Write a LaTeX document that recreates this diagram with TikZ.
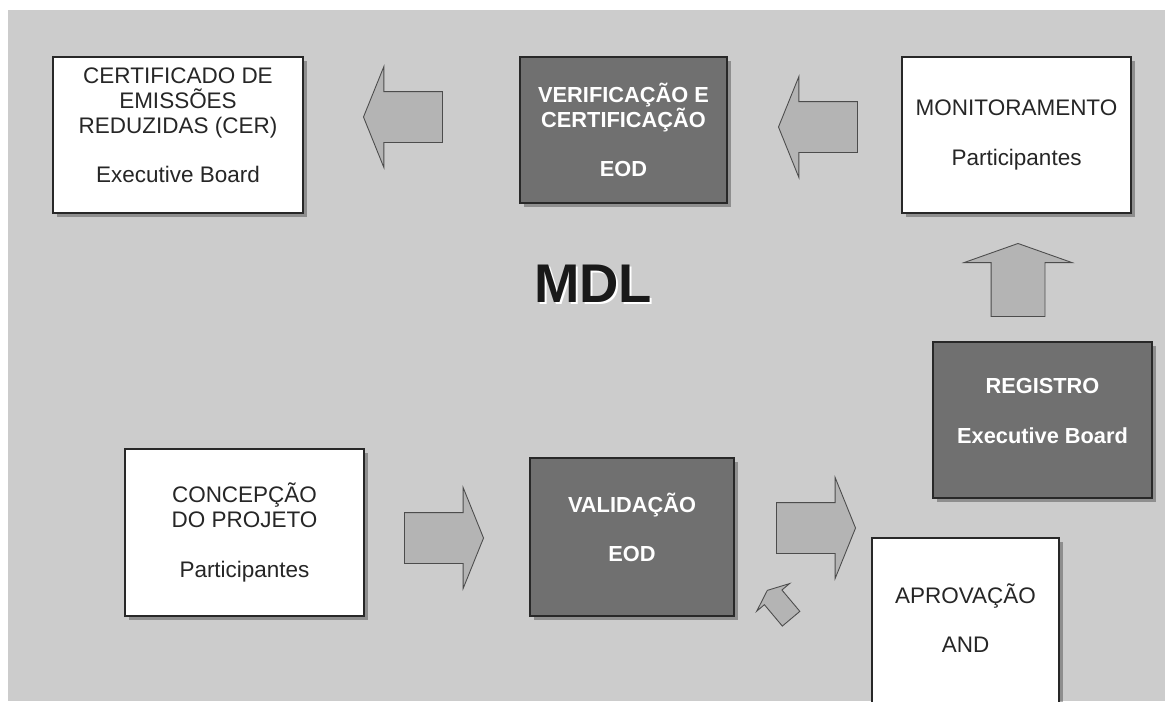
\documentclass[tikz,border=0pt]{standalone}
\usepackage{fontspec}
\setmainfont{Liberation Sans}
\usepackage{xcolor}
\definecolor{mdlback}{RGB}{204,204,204}
\definecolor{mdldark}{RGB}{112,112,112}
\definecolor{mdlarrow}{RGB}{180,180,180}
\definecolor{mdlline}{RGB}{40,40,40}
\usetikzlibrary{shapes.arrows,shadows}

\begin{document}
\begin{tikzpicture}[x=0.02cm, y=-0.02cm,
  lightbox/.style={draw=mdlline, line width=1.1pt, fill=white, align=center, inner sep=0pt,
    font=\fontsize{12.8}{14.2}\selectfont, text=black!85,
    drop shadow={shadow xshift=0.08cm, shadow yshift=-0.08cm, fill=black, opacity=0.3}},
  darkbox/.style={lightbox, fill=mdldark, text=white, font=\fontsize{12.4}{14.2}\selectfont\bfseries},
  blockarrow/.style={single arrow, draw=black!70, line width=0.5pt, fill=mdlarrow,
    inner xsep=0pt, inner ysep=0.5cm, single arrow head extend=0.5cm,
    single arrow tip angle=136, minimum height=1.58cm, anchor=tip}]
  \useasboundingbox (0,0) rectangle (1165,701);
  \clip (0,0) rectangle (1165,701);
  \fill[mdlback] (8,10) rectangle (1165,701);

  % Upper row: CER <- Verification <- Monitoring
  \node[lightbox, minimum width=5cm, minimum height=3.12cm] (cer) at (178,135) {CERTIFICADO DE\\EMISSÕES\\REDUZIDAS (CER)\\[14pt]Executive Board\\[-3pt]\mbox{}};

  \node[darkbox, minimum width=4.14cm, minimum height=2.92cm] (ver) at (623.5,130) {VERIFICAÇÃO E\\CERTIFICAÇÃO\\[14pt]EOD};

  \node[lightbox, minimum width=4.58cm, minimum height=3.12cm] (mon) at (1016.5,135) {MONITORAMENTO\\[14pt]Participantes};

  \node[blockarrow, shape border rotate=180] (arrcer) at (363,117) {};
  \node[blockarrow, shape border rotate=180] (arrver) at (778,127) {};

  % Title
  \node[font=\fontsize{31}{31}\selectfont\bfseries, text=white, anchor=base] (mdlshadow) at (595,304) {MDL};
  \node[font=\fontsize{31}{31}\selectfont\bfseries, text=black!90, anchor=base] (mdl) at (593,302) {MDL};

  % Right column: Registration -> Monitoring
  \node[darkbox, minimum width=4.38cm, minimum height=3.12cm] (reg) at (1042.5,420) {REGISTRO\\[14pt]Executive Board\\[-4pt]\mbox{}};

  \node[blockarrow, rotate=90, inner ysep=0.53cm, single arrow head extend=0.54cm,
    single arrow tip angle=141, minimum height=1.46cm] (arrmon) at (1018,243) {};

  % Lower row: Conception -> Validation -> Approval
  \node[lightbox, minimum width=4.78cm, minimum height=3.34cm] (con) at (244.5,532.5) {CONCEPÇÃO\\DO PROJETO\\[14pt]Participantes};

  \node[darkbox, minimum width=4.08cm, minimum height=3.16cm] (val) at (632,537) {VALIDAÇÃO\\[14pt]EOD\\[-3pt]\mbox{}};

  \node[lightbox, minimum width=3.74cm, minimum height=3.5cm] (apr) at (965.5,625.5) {APROVAÇÃO\\[14pt]AND\\[-6pt]\mbox{}};

  \node[blockarrow] (arrval) at (484,538) {};
  \node[blockarrow] (arrreg) at (856,528) {};

  % Small feedback arrow from approval
  \node[blockarrow, rotate=130, inner ysep=0.22cm, single arrow head extend=0.2cm,
    single arrow tip angle=134, minimum height=0.74cm] (arrapr) at (767,590) {};
\end{tikzpicture}
\end{document}
